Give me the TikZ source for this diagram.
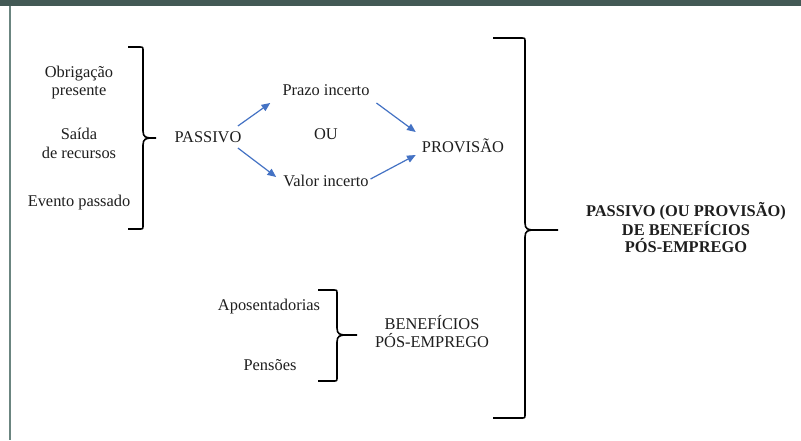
\documentclass[tikz,border=0pt]{standalone}
\usepackage{fontspec}
\setmainfont{Liberation Serif}
\usetikzlibrary{arrows.meta,calc}
\definecolor{barcol}{HTML}{435955}
\definecolor{edgecol}{HTML}{6B8580}
\definecolor{arrcol}{HTML}{4472C4}
\definecolor{txtcol}{HTML}{1E1E1E}
\newcommand\mybrace[6]{%
  \draw[bracestyle] (#1,#2) -- ({#3-4},#2) .. controls (#3,#2) .. (#3,{#2+4})
    -- (#3,{#5-7}) .. controls (#3,{#5-1}) and ({#3+3},#5) .. ({#3+9},#5) -- (#4,#5)
    ({#3+9},#5) .. controls ({#3+3},#5) and (#3,{#5+1}) .. (#3,{#5+7})
    -- (#3,{#6-4}) .. controls (#3,#6) .. ({#3-4},#6) -- (#1,#6);}
\begin{document}
\begin{tikzpicture}[x=0.75pt,y=-0.75pt,
  txt/.style={inner sep=0pt,text=txtcol,font=\fontsize{12.3}{13.9}\selectfont,align=center},
  btxt/.style={txt,font=\fontsize{12.3}{12.75}\selectfont\bfseries},
  arr/.style={draw=arrcol,line width=0.9pt,-{Triangle[length=6.5pt,width=5.5pt]}},
  bracestyle/.style={draw=black,line width=1.2pt,line join=round}]
\useasboundingbox (0,0) rectangle (801,440);
\fill[white] (0,0) rectangle (801,440);
\fill[barcol] (0,0) rectangle (801,6);
\draw[edgecol,line width=1.2pt] (10,6) -- (10,440);

% left group
\node[txt] (obrig) at (79,82.5) {Obrigação\\presente};
\node[txt] (saida) at (79,143.5) {Saída\\de recursos};
\node[txt,anchor=base] (evento) at (79,206.7) {Evento passado};
\mybrace{128}{47}{143}{156}{138}{229}

\node[txt,anchor=base] (passivo) at (208,142) {PASSIVO};
\node[txt,anchor=base] (prazo) at (326,95) {Prazo incerto};
\node[txt,anchor=base] (ou) at (326,139.3) {OU};
\node[txt,anchor=base] (valor) at (326,186) {Valor incerto};
\node[txt,anchor=base] (provisao) at (463,152.7) {PROVISÃO};

\draw[arr] ($(passivo.base east)+(-3.8,-16)$) -- ($(prazo.base west)+(-12,8)$);
\draw[arr] ($(passivo.base east)+(-3.8,6)$) -- ($(valor.base west)+(-7,-9)$);
\draw[arr] ($(prazo.base east)+(6.7,8)$) -- ($(provisao.base west)+(-6,-20.7)$);
\draw[arr] ($(valor.base east)+(1.7,-7)$) -- ($(provisao.base west)+(-6,2.3)$);

% lower group
\node[txt,anchor=base] (apos) at (269,310) {Aposentadorias};
\node[txt,anchor=base] (pens) at (270,370) {Pensões};
\mybrace{318}{290}{337}{357}{335}{381}
\node[txt] (benef) at (432,331.5) {BENEFÍCIOS\\PÓS-EMPREGO};

% big brace
\mybrace{493}{38}{525}{558}{230}{418}
\node[btxt] (final) at (686,227.5) {PASSIVO (OU PROVISÃO)\\DE BENEFÍCIOS\\PÓS-EMPREGO};
\end{tikzpicture}
\end{document}
